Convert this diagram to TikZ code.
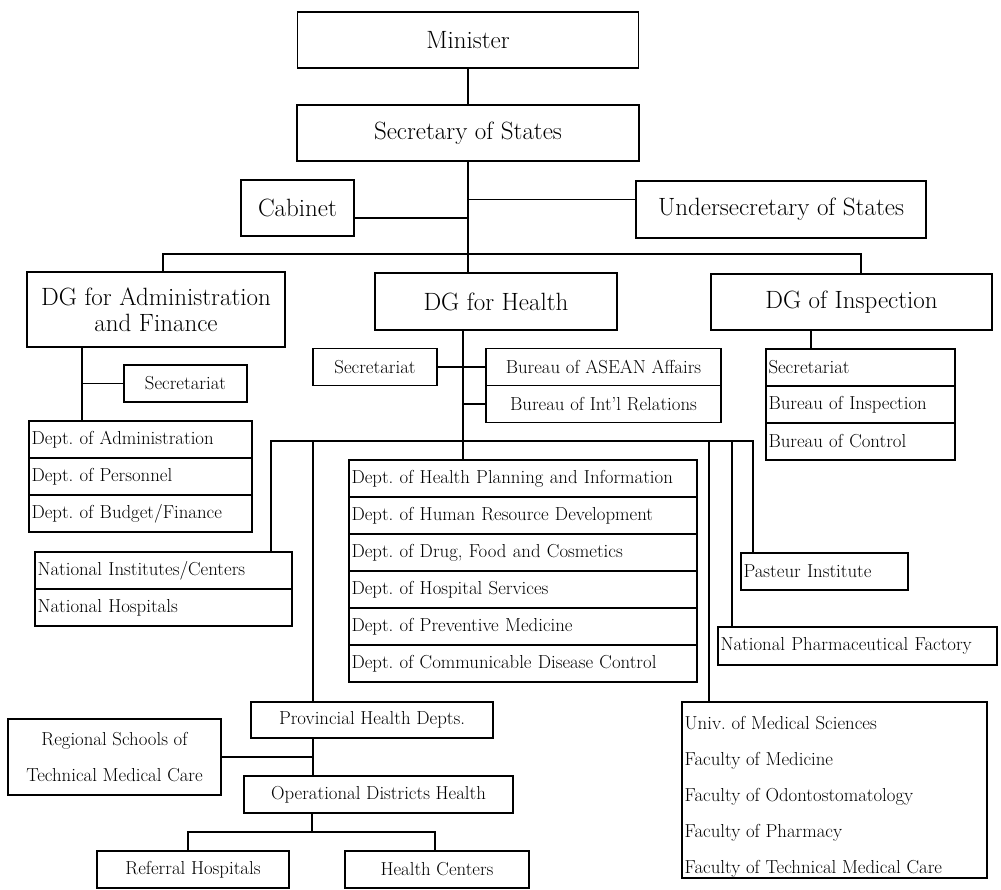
\documentclass[tikz,border=0pt]{standalone}
\usepackage{fontspec}
\frenchspacing
\begin{document}
\begin{tikzpicture}[x=1pt,y=-1pt,
  box/.style={draw,line width=1.2pt,rectangle,inner sep=0pt},
  hd/.style={box,font=\fontsize{25}{26}\selectfont},
  tx/.style={box,font=\fontsize{18.8}{22}\selectfont},
  lrow/.style={tx,minimum height=37pt,inner xsep=2.5pt,align=left,text width=#1},
  ut/.style={anchor=base west,inner sep=0pt,font=\fontsize{18.8}{22}\selectfont},
  ln/.style={line width=1.2pt}]
\useasboundingbox (0,0) rectangle (1001,889);
% top levels
\node[hd,minimum width=341pt,minimum height=56pt] (min) at (468,40) {Minister};
\node[hd,minimum width=342pt,minimum height=56pt] (sec) at (468,133) {Secretary of States};
\node[hd,minimum width=113pt,minimum height=56pt] (cab) at (297.5,208) {Cabinet};
\node[hd,minimum width=290pt,minimum height=57pt] (und) at (781,209.5) {Undersecretary of States};
\node[hd,minimum width=258pt,minimum height=75pt,align=center] (dga) at (156,309.5) {DG for Administration\\and Finance};
\node[hd,minimum width=242pt,minimum height=57pt] (dgh) at (496,301.5) {DG for Health};
\node[hd,minimum width=281pt,minimum height=56pt] (dgi) at (851.5,302) {DG of Inspection};
% administration branch
\node[tx,minimum width=123pt,minimum height=37pt] (sa) at (185.5,383.5) {Secretariat};
\node[lrow=218pt] (da1) at (140.5,439.5) {Dept. of Administration};
\node[lrow=218pt] (da2) at (140.5,476.5) {Dept. of Personnel};
\node[lrow=218pt] (da3) at (140.5,513.5) {Dept. of Budget/Finance};
% health branch
\node[tx,minimum width=124pt,minimum height=37pt] (s2) at (375,367) {Secretariat};
\node[tx,minimum width=235pt,minimum height=37pt] (bu1) at (603.5,367) {Bureau of ASEAN Affairs};
\node[tx,minimum width=235pt,minimum height=37pt] (bu2) at (603.5,404) {Bureau of Int'l Relations};
% inspection branch
\node[lrow=184pt] (in1) at (860.5,367.5) {Secretariat};
\node[lrow=184pt] (in2) at (860.5,404.5) {Bureau of Inspection};
\node[lrow=184pt] (in3) at (860.5,441.5) {Bureau of Control};
% national institutes
\node[lrow=252pt] (ni1) at (163.5,570.5) {National Institutes/Centers};
\node[lrow=252pt] (ni2) at (163.5,607.5) {National Hospitals};
% departments
\node[lrow=343pt] (dh1) at (523,478.5) {Dept. of Health Planning and Information};
\node[lrow=343pt] (dh2) at (523,515.5) {Dept. of Human Resource Development};
\node[lrow=343pt] (dh3) at (523,552.5) {Dept. of Drug, Food and Cosmetics};
\node[lrow=343pt] (dh4) at (523,589.5) {Dept. of Hospital Services};
\node[lrow=343pt] (dh5) at (523,626.5) {Dept. of Preventive Medicine};
\node[lrow=343pt] (dh6) at (523,663.5) {Dept. of Communicable Disease Control};
% right side
\node[lrow=162pt] (pas) at (824.5,571.5) {Pasteur Institute};
\node[lrow=274pt,minimum height=38pt] (npf) at (857.5,646) {National Pharmaceutical Factory};
\node[box,minimum width=305pt,minimum height=176pt] (univ) at (834.5,790) {};
\node[ut] (un1) at (684.5,729) {Univ. of Medical Sciences};
\node[ut] (un2) at (684.5,765) {Faculty of Medicine};
\node[ut] (un3) at (684.5,801) {Faculty of Odontostomatology};
\node[ut] (un4) at (684.5,837) {Faculty of Pharmacy};
\node[ut] (un5) at (684.5,873) {Faculty of Technical Medical Care};
% provincial
\node[tx,minimum width=242pt,minimum height=36pt] (prov) at (372,720) {Provincial Health Depts.};
\node[box,font=\fontsize{18.8}{36}\selectfont,align=center,minimum width=213pt,minimum height=76pt] (reg) at (114.5,757) {Regional Schools of\\Technical Medical Care};
\node[tx,minimum width=269pt,minimum height=37pt] (op) at (378.5,794.5) {Operational Districts Health};
\node[tx,minimum width=192pt,minimum height=37pt] (ref) at (193,869.5) {Referral Hospitals};
\node[tx,minimum width=184pt,minimum height=37pt] (hc) at (437,869.5) {Health Centers};
% connectors
\draw[ln] (min.south) -- (min.south |- sec.north);
\draw[ln] (sec.south) -- (sec.south |- dgh.north);
\coordinate (cj) at ([yshift=-10pt]cab.east);
\coordinate (uj) at ([yshift=10pt]und.west);
\draw[ln] (cj) -- (cj -| sec.south);
\draw[ln] (uj) -- (uj -| sec.south);
\coordinate (b1) at (163,254);
\coordinate (b2) at (861,254);
\draw[ln] (b1 |- dga.north) -- (b1) -- (b2) -- (b2 |- dgi.north);
\coordinate (a1) at (82,0);
\draw[ln] (a1 |- dga.south) -- (a1 |- da1.north);
\draw[ln] (a1 |- sa.west) -- (sa.west);
\coordinate (h1) at (463,441);
\draw[ln] (h1 |- dgh.south) -- (h1) -- (h1 |- dh1.north);
\draw[ln] (s2.east) -- (bu1.west);
\draw[ln] (h1 |- bu2.west) -- (bu2.west);
\coordinate (i1) at (811,0);
\draw[ln] (i1 |- dgi.south) -- (i1 |- in1.north);
\coordinate (l1) at (271,441);
\coordinate (l2) at (753,441);
\draw[ln] (l1 |- ni1.north) -- (l1) -- (l2) -- (l2 |- pas.north);
\coordinate (p1) at (313,441);
\draw[ln] (p1) -- (p1 |- prov.north);
\coordinate (u1) at (709,441);
\draw[ln] (u1) -- (u1 |- univ.north);
\coordinate (f1) at (732,441);
\draw[ln] (f1) -- (f1 |- npf.north);
\draw[ln] (p1 |- prov.south) -- (p1 |- op.north);
\draw[ln] (reg.east) -- (reg.east -| p1);
\coordinate (o1) at (312,832);
\coordinate (o2) at (188,832);
\coordinate (o3) at (435,832);
\draw[ln] (o1 |- op.south) -- (o1);
\draw[ln] (o2 |- ref.north) -- (o2) -- (o3) -- (o3 |- hc.north);
\end{tikzpicture}
\end{document}
